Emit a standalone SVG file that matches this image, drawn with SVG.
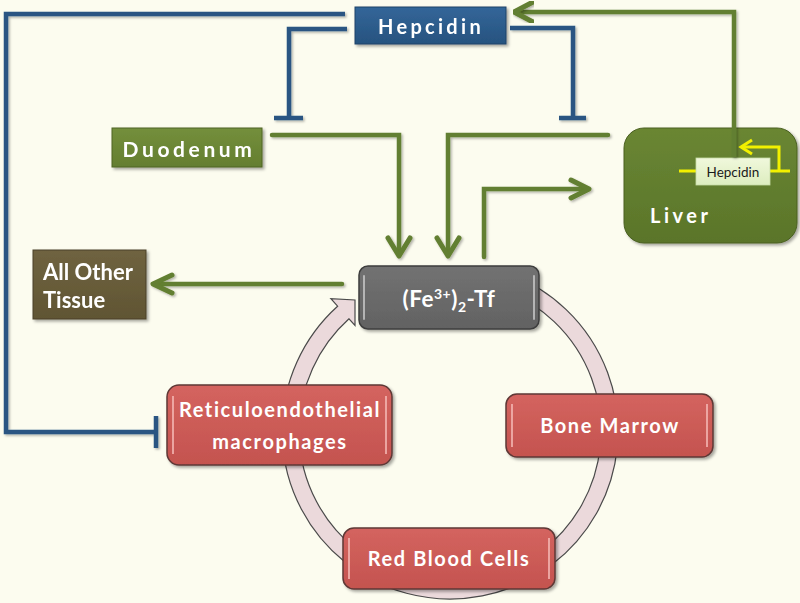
<svg xmlns="http://www.w3.org/2000/svg" width="800" height="603" viewBox="0 0 800 603">
<defs>
<filter id="sh" x="-20%" y="-20%" width="140%" height="140%"><feDropShadow dx="2" dy="2" stdDeviation="1.5" flood-color="#000" flood-opacity="0.35"/></filter>
<filter id="lsh" x="-5%" y="-5%" width="110%" height="110%"><feDropShadow dx="1.5" dy="1.5" stdDeviation="1" flood-color="#000" flood-opacity="0.3"/></filter>
<linearGradient id="gRed" x1="0" y1="0" x2="0" y2="1"><stop offset="0" stop-color="#D4645F"/><stop offset="1" stop-color="#C4534F"/></linearGradient>
<linearGradient id="gGray" x1="0" y1="0" x2="0" y2="1"><stop offset="0" stop-color="#727272"/><stop offset="1" stop-color="#626262"/></linearGradient>
<linearGradient id="gBlue" x1="0" y1="0" x2="0" y2="1"><stop offset="0" stop-color="#336699"/><stop offset="1" stop-color="#27537F"/></linearGradient>
<linearGradient id="gGreen" x1="0" y1="0" x2="0" y2="1"><stop offset="0" stop-color="#748F3C"/><stop offset="1" stop-color="#647E30"/></linearGradient>
<linearGradient id="gLiver" x1="0" y1="0" x2="0" y2="1"><stop offset="0" stop-color="#6A8633"/><stop offset="1" stop-color="#5A752A"/></linearGradient>
<linearGradient id="gBrown" x1="0" y1="0" x2="0" y2="1"><stop offset="0" stop-color="#6F6340"/><stop offset="1" stop-color="#605533"/></linearGradient>
<linearGradient id="gLight" x1="0" y1="0" x2="0" y2="1"><stop offset="0" stop-color="#F0F8DC"/><stop offset="1" stop-color="#DDEDBF"/></linearGradient>
</defs>
<style>
.t{font-family:Lato,"Open Sans","Liberation Sans",sans-serif;font-weight:bold;fill:#FFFFFF}
.g{fill:none;stroke:#627F30;stroke-width:4.5;stroke-linecap:round;stroke-linejoin:miter}
.gh{fill:none;stroke:#627F30;stroke-width:5;stroke-linecap:round;stroke-linejoin:round}
.b{fill:none;stroke:#2B5582;stroke-width:4.5;stroke-linejoin:miter}
.y{fill:none;stroke:#F2F000;stroke-width:3}
.red{fill:url(#gRed);stroke:#5E3836;stroke-width:1.5}
.hl{fill:none;stroke:#F4B8B4;stroke-width:2;stroke-opacity:0.8}
.rt{font-size:20px;letter-spacing:1.6px}
</style>
<rect width="800" height="603" fill="#FCFCEF"/>

<g id="cycle">
<path d="M 507.5 273.1 A 168 168 0 1 1 337.6 306.2 L 330.9 298.7 L 355 300 L 355 325.5 L 349 318.8 A 151 151 0 1 0 501.6 289.1 Z" fill="#EBD9DB" stroke="#4A4A4A" stroke-width="1.2"/>
</g>

<g id="connectors" filter="url(#lsh)">
<path class="b" d="M345 14 H6 V432 H155"/>
<line class="b" x1="156" y1="416" x2="156" y2="448"/>
<path class="b" d="M347 29 H289 V118"/>
<line class="b" x1="274" y1="118" x2="303" y2="118"/>
<path class="b" d="M510 28 H573 V118"/>
<line class="b" x1="559" y1="118" x2="586" y2="118"/>
<path class="g" d="M272 135 H399 V255"/>
<path class="gh" d="M388 238 L399 256 L410 238"/>
<path class="g" d="M608 135 H448 V255"/>
<path class="gh" d="M437 238 L448 256 L459 238"/>
<path class="g" d="M484 257 V189 H588"/>
<path class="gh" d="M571 180 L589 189 L571 198"/>
<path class="g" d="M342 284 H154"/>
<path class="gh" d="M172 275 L153 284 L172 293"/>
</g>

<g id="hepcidin" filter="url(#sh)">
<rect x="355" y="7" width="151" height="37" fill="url(#gBlue)" stroke="#1E4468" stroke-width="1"/>
<text class="t" x="431" y="34" font-size="20" text-anchor="middle" letter-spacing="3.3">Hepcidin</text>
</g>

<g id="duodenum" filter="url(#sh)">
<rect x="112" y="128" width="150" height="39" fill="url(#gGreen)" stroke="#4E6424" stroke-width="1"/>
<text class="t" x="189" y="157" font-size="21" text-anchor="middle" letter-spacing="3.6">Duodenum</text>
</g>

<g id="liver">
<rect x="624" y="128" width="173" height="115" rx="20" fill="url(#gLiver)" stroke="#4A6020" stroke-width="1" filter="url(#sh)"/>
<text class="t" x="650" y="223" font-size="20" letter-spacing="3.5">Liver</text>
<path class="y" d="M679 171 H696 M770 171 H790 M779 171 V147 H741"/>
<path class="y" d="M752 140 L741 147 L752 154"/>
<rect x="696" y="158" width="74" height="27" fill="url(#gLight)" stroke="#C8DCA8" stroke-width="0.8"/>
<text x="733" y="177" font-family="Lato,'Open Sans','Liberation Sans',sans-serif" font-size="13.5" fill="#1A1A1A" text-anchor="middle">Hepcidin</text>
<path d="M734 157 V12 H515" fill="none" stroke="#627F30" stroke-width="4.5" filter="url(#lsh)"/>
<path class="gh" d="M533 2 L514 12 L533 22" filter="url(#lsh)"/>
</g>

<g id="othertissue" filter="url(#sh)">
<rect x="33" y="250" width="113" height="69" fill="url(#gBrown)" stroke="#4A4128" stroke-width="1"/>
<text class="t" x="43" y="280" font-size="22">All Other</text>
<text class="t" x="43" y="308" font-size="22">Tissue</text>
</g>

<g id="fetf">
<rect x="359" y="266" width="180" height="63" rx="9" fill="url(#gGray)" stroke="#3E3E3E" stroke-width="1.5" filter="url(#sh)"/>
<path d="M364 276 V319 M534 276 V319" stroke="#C8C8C8" stroke-width="2" stroke-linecap="round" opacity="0.8"/>
<text class="t" x="449" y="307" font-size="22.5" text-anchor="middle" letter-spacing="0.5">(Fe<tspan font-size="14" dy="-8">3+</tspan><tspan dy="8">)</tspan><tspan font-size="14" dy="5">2</tspan><tspan dy="-5">-Tf</tspan></text>
</g>

<g id="macrophages">
<rect x="167" y="385" width="225" height="80" rx="12" class="red" filter="url(#sh)"/>
<path class="hl" d="M173 396 V454 M386 396 V454"/>
<text class="t rt" x="280" y="417" text-anchor="middle">Reticuloendothelial</text>
<text class="t rt" x="280" y="449" text-anchor="middle">macrophages</text>
</g>

<g id="bonemarrow">
<rect x="506" y="394" width="207" height="63" rx="11" class="red" filter="url(#sh)"/>
<path class="hl" d="M512 404 V447 M707 404 V447"/>
<text class="t rt" x="610" y="433" text-anchor="middle">Bone Marrow</text>
</g>

<g id="rbc">
<rect x="343" y="528" width="212" height="61" rx="11" class="red" filter="url(#sh)"/>
<path class="hl" d="M349 538 V579 M549 538 V579"/>
<text class="t rt" x="449" y="566" text-anchor="middle">Red Blood Cells</text>
</g>
</svg>
